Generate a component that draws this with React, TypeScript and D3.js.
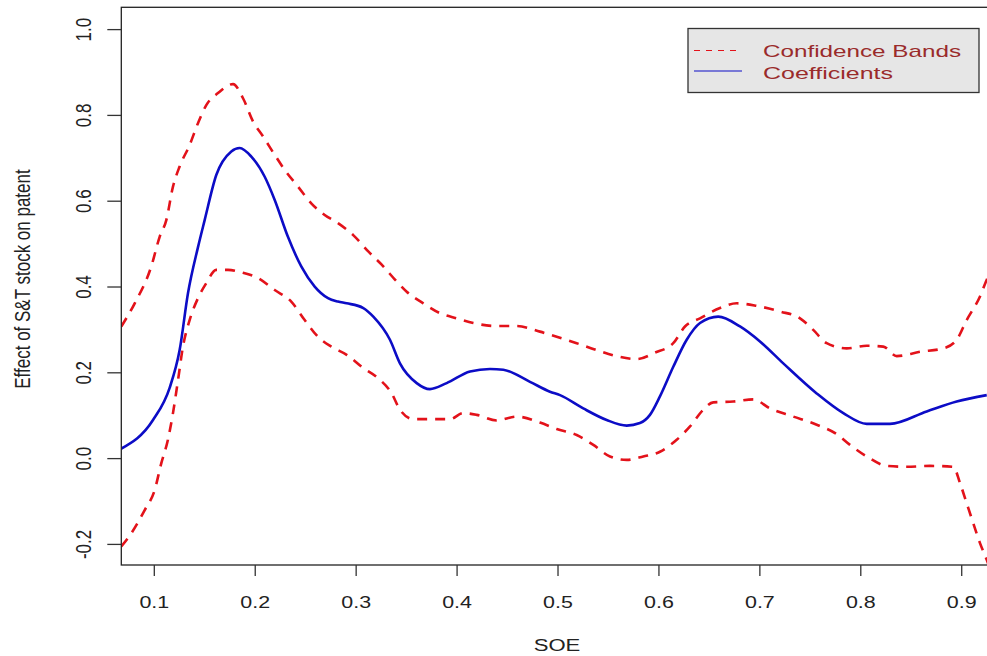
import React from "react";
import * as d3 from "d3";

// Varying-coefficient estimate of the S&T stock effect across SOE share
const coefSoe = [
  0.067, 0.0987, 0.1152, 0.1251, 0.1334, 0.1433, 0.1499, 0.1614, 0.1763, 0.1846,
  0.1961, 0.2094, 0.2193, 0.2324, 0.2456, 0.2589, 0.2721, 0.282, 0.2906, 0.3071,
  0.317, 0.3335, 0.3434, 0.36, 0.3731, 0.3897, 0.4128, 0.4326, 0.4458, 0.4722,
  0.492, 0.502, 0.525, 0.5482, 0.5681, 0.5812, 0.5911, 0.601, 0.6142, 0.6275,
  0.6407, 0.6588, 0.6803, 0.7001, 0.7232, 0.7563, 0.7827, 0.8059, 0.8289, 0.8653,
  0.895, 0.9248,
];
const coefValue = [
  0.023, 0.09, 0.165, 0.253, 0.386, 0.493, 0.556, 0.661, 0.716, 0.724,
  0.704, 0.657, 0.603, 0.517, 0.448, 0.401, 0.374, 0.366, 0.362, 0.351,
  0.331, 0.277, 0.222, 0.176, 0.162, 0.176, 0.203, 0.209, 0.207, 0.179,
  0.156, 0.148, 0.117, 0.09, 0.077, 0.083, 0.102, 0.145, 0.214, 0.277,
  0.316, 0.331, 0.308, 0.273, 0.222, 0.152, 0.106, 0.081, 0.081, 0.11,
  0.133, 0.148,
];

// Upper confidence band
const upperSoe = [
  0.0673, 0.0806, 0.097, 0.1053, 0.1119, 0.1185, 0.1251, 0.135, 0.1433, 0.1515,
  0.1631, 0.178, 0.1879, 0.1978, 0.2077, 0.2193, 0.2292, 0.2424, 0.2555, 0.2688,
  0.282, 0.2971, 0.312, 0.3253, 0.3401, 0.3501, 0.3665, 0.3831, 0.3996, 0.4161,
  0.4392, 0.4591, 0.4821, 0.4987, 0.5185, 0.5383, 0.5581, 0.578, 0.5961, 0.6142,
  0.6258, 0.6407, 0.6605, 0.6771, 0.6969, 0.7199, 0.7398, 0.7529, 0.7662, 0.786,
  0.8059, 0.8223, 0.8356, 0.8587, 0.8817, 0.895, 0.9049, 0.9181, 0.9248, 0.93,
];
const upperValue = [
  0.308, 0.362, 0.448, 0.517, 0.556, 0.634, 0.681, 0.731, 0.782, 0.824,
  0.852, 0.873, 0.84, 0.786, 0.751, 0.708, 0.673, 0.634, 0.595, 0.568,
  0.549, 0.521, 0.483, 0.452, 0.413, 0.389, 0.362, 0.339, 0.327, 0.316,
  0.309, 0.309, 0.296, 0.284, 0.269, 0.253, 0.239, 0.232, 0.247, 0.269,
  0.308, 0.327, 0.351, 0.362, 0.356, 0.343, 0.327, 0.3, 0.269, 0.257,
  0.263, 0.261, 0.239, 0.249, 0.257, 0.277, 0.323, 0.378, 0.417, 0.44,
];

// Lower confidence band
const lowerSoe = [
  0.0673, 0.0772, 0.0905, 0.1004, 0.1069, 0.1135, 0.1185, 0.1235, 0.1284, 0.135,
  0.1433, 0.1515, 0.1614, 0.173, 0.1862, 0.2027, 0.2193, 0.2357, 0.249, 0.2622,
  0.2753, 0.2906, 0.3071, 0.3219, 0.3352, 0.3434, 0.3566, 0.3731, 0.393, 0.4061,
  0.4194, 0.4392, 0.4591, 0.4821, 0.4987, 0.5185, 0.535, 0.5515, 0.5681, 0.5845,
  0.601, 0.6176, 0.6308, 0.6439, 0.6538, 0.6737, 0.6935, 0.71, 0.7331, 0.7563,
  0.7761, 0.7893, 0.8059, 0.8257, 0.8455, 0.8686, 0.8917, 0.8983, 0.9049, 0.9115,
  0.9181, 0.9248, 0.93,
];
const lowerValue = [
  -0.205, -0.174, -0.12, -0.073, -0.011, 0.044, 0.106, 0.183, 0.261, 0.323,
  0.374, 0.409, 0.44, 0.44, 0.434, 0.421, 0.393, 0.366, 0.323, 0.284,
  0.261, 0.242, 0.211, 0.187, 0.152, 0.114, 0.092, 0.092, 0.092, 0.106,
  0.102, 0.089, 0.098, 0.084, 0.069, 0.055, 0.032, 0.005, -0.003, 0.005,
  0.016, 0.044, 0.075, 0.114, 0.131, 0.133, 0.138, 0.117, 0.098, 0.079,
  0.057, 0.032, 0.005, -0.017, -0.019, -0.017, -0.019, -0.057, -0.104, -0.151,
  -0.197, -0.236, -0.27,
];

const xTicks = [0.1, 0.2, 0.3, 0.4, 0.5, 0.6, 0.7, 0.8, 0.9];
const yTicks = [-0.2, 0.0, 0.2, 0.4, 0.6, 0.8, 1.0];
const legendLabels = ["Confidence Bands", "Coefficients"];

const W = 987;
const H = 656;
const plot = { left: 121.3, right: 992, top: 7.3, bottom: 565 };
const FONT = "'Liberation Sans', Arial, sans-serif";
const RED = "#e3121a";
const BLUE = "#0c0cc6";
const SX = 1.3;

export default function App() {
  const x = d3.scaleLinear().domain([0.0673, 0.93]).range([plot.left, plot.right]);
  const y = d3.scaleLinear().domain([-0.248, 1.052]).range([plot.bottom, plot.top]);

  const line = (xs: number[], ys: number[]) =>
    d3
      .line<number>()
      .x((_, i) => x(xs[i]))
      .y((v) => y(v))
      .curve(d3.curveMonotoneX)(ys) || "";

  return (
    <svg
      width={W}
      height={H}
      style={{ position: "absolute", left: 0, top: 0, background: "#fff" }}
      fontFamily={FONT}
    >
      <defs>
        <clipPath id="plotClip">
          <rect x={plot.left} y={plot.top} width={plot.right - plot.left} height={plot.bottom - plot.top} />
        </clipPath>
      </defs>
      <rect width={W} height={H} fill="#fff" />

      <g clipPath="url(#plotClip)" fill="none" strokeLinejoin="round">
        <path d={line(upperSoe, upperValue)} stroke={RED} strokeWidth={2.6} strokeDasharray="10,8" />
        <path d={line(lowerSoe, lowerValue)} stroke={RED} strokeWidth={2.6} strokeDasharray="10,8" />
        <path d={line(coefSoe, coefValue)} stroke={BLUE} strokeWidth={2.6} />
      </g>

      {/* plot frame */}
      <rect
        x={plot.left}
        y={plot.top}
        width={plot.right - plot.left}
        height={plot.bottom - plot.top}
        fill="none"
        stroke="#222"
        strokeWidth={1.3}
      />

      {/* x axis */}
      {xTicks.map((t) => (
        <g key={"x" + t}>
          <line x1={x(t)} x2={x(t)} y1={plot.bottom} y2={plot.bottom + 11} stroke="#333" strokeWidth={1.3} />
          <text
            transform={`translate(${x(t)},608) scale(${SX},1)`}
            textAnchor="middle"
            fontSize={16.5}
            fill="#222"
          >
            {t.toFixed(1)}
          </text>
        </g>
      ))}

      {/* y axis */}
      {yTicks.map((t) => (
        <g key={"y" + t}>
          <line x1={plot.left - 14} x2={plot.left} y1={y(t)} y2={y(t)} stroke="#333" strokeWidth={1.3} />
          <text
            transform={`translate(90.5,${y(t)}) scale(${SX},1) rotate(-90)`}
            textAnchor="middle"
            fontSize={17}
            fill="#222"
          >
            {t.toFixed(1)}
          </text>
        </g>
      ))}

      <text transform={`translate(557,651) scale(${SX},1)`} textAnchor="middle" fontSize={17} fill="#222">
        SOE
      </text>
      <text
        transform={`translate(29.5,279) scale(${SX},1) rotate(-90)`}
        textAnchor="middle"
        fontSize={17}
        fill="#222"
      >
        Effect of S&amp;T stock on patent
      </text>

      {/* legend */}
      <g>
        <rect x={688} y={28.5} width={291} height={64} fill="#e6e6e6" stroke="#333" strokeWidth={1.3} />
        <line x1={694} x2={742} y1={50.5} y2={50.5} stroke={RED} strokeWidth={1.2} strokeDasharray="6,6" />
        <line x1={694} x2={742} y1={71} y2={71} stroke={BLUE} strokeWidth={1.2} />
        <text x={763} y={57} fontSize={17} fill="#9a2b2b" textLength={198} lengthAdjust="spacingAndGlyphs">
          {legendLabels[0]}
        </text>
        <text x={763} y={78.5} fontSize={17} fill="#9a2b2b" textLength={130} lengthAdjust="spacingAndGlyphs">
          {legendLabels[1]}
        </text>
      </g>
    </svg>
  );
}
